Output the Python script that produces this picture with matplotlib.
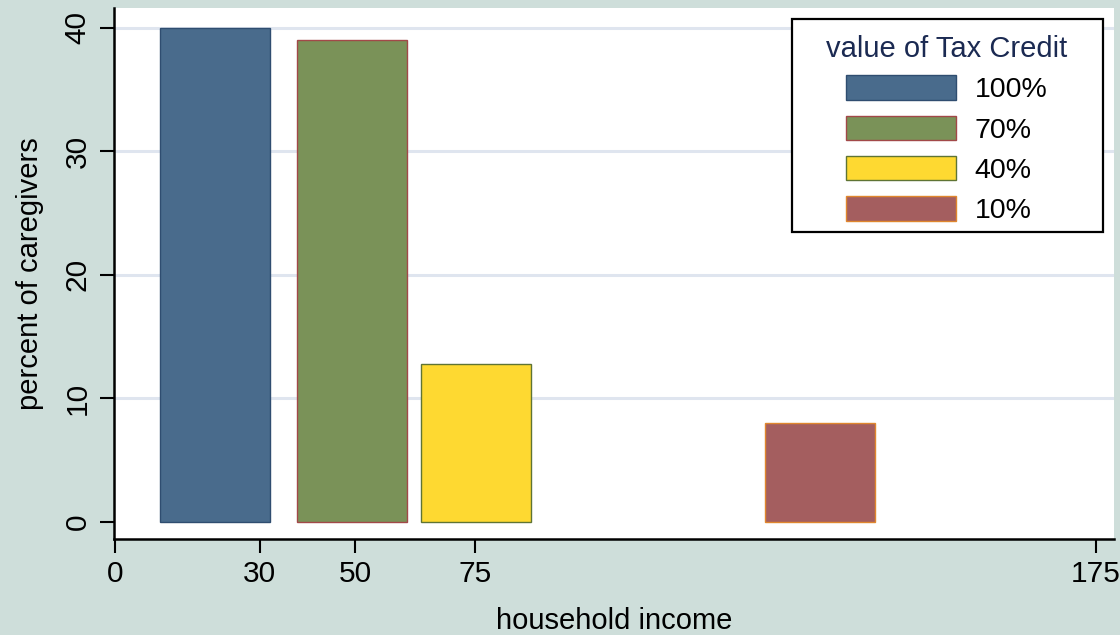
import matplotlib
matplotlib.use("Agg")
import matplotlib.pyplot as plt
from matplotlib.patches import Patch, Rectangle

# data
series = ["100%", "70%", "40%", "10%"]
percent = [40.0, 39.0, 12.8, 8.0]
bar_centers = [20.7, 49.2, 74.8, 146.1]
bar_width = 22.8
xtick_pos = [0, 30, 49.8, 74.6, 203.4]
xtick_labels = ["0", "30", "50", "75", "175"]
yticks = [0, 10, 20, 30, 40]

fills = ["#496b8c", "#7a9258", "#fed931", "#a45e5f"]
edges = ["#2f4d70", "#a24848", "#5f7434", "#e0872e"]
bg = "#cededa"

plt.rcParams["font.family"] = ["Liberation Sans", "DejaVu Sans"]

fig = plt.figure(figsize=(11.2, 6.35), dpi=100, facecolor=bg)
ax = fig.add_axes([114/1120, (635-539)/635, 1000/1120, 531/635])
ax.set_facecolor("white")

for y in yticks[1:]:
    ax.axhline(y, color="#dfe5ef", lw=2.2, zorder=0)

for c, h, f, e in zip(bar_centers, percent, fills, edges):
    ax.bar(c, h, width=bar_width, color=f, edgecolor=e, linewidth=1.0, zorder=2)

ax.set_xlim(-0.2, 207.1)
ax.set_ylim(-1.4, 41.6)
ax.set_xticks(xtick_pos)
ax.set_xticklabels(xtick_labels, fontsize=21.5)
ax.set_yticks(yticks)
ax.set_yticklabels([str(v) for v in yticks], fontsize=21.5, rotation=90, va="center")
ax.tick_params(axis="both", length=10, width=1.5, color="black")
ax.tick_params(axis="x", pad=5)
ax.tick_params(axis="y", pad=6)

for s in ["top", "right"]:
    ax.spines[s].set_visible(False)
for s in ["left", "bottom"]:
    ax.spines[s].set_linewidth(1.8)
    ax.spines[s].set_color("black")

ax.set_xlabel("household income", fontsize=21, labelpad=14)
ax.set_ylabel("percent of caregivers", fontsize=21, labelpad=14)

# legend frame
ax.add_patch(Rectangle((0.678, 0.578), 0.311, 0.401, transform=ax.transAxes,
                       facecolor="white", edgecolor="black", linewidth=1.6, zorder=4))

handles = [Patch(facecolor=f, edgecolor=e, linewidth=1.0) for f, e in zip(fills, edges)]
leg = ax.legend(handles, series, title="value of Tax Credit", loc="upper center",
                bbox_to_anchor=(0.833, 0.949), fontsize=20.5, title_fontsize=21,
                handlelength=3.86, handleheight=0.95, handletextpad=0.65,
                labelspacing=0.43, borderpad=0, frameon=False, borderaxespad=0)
leg.get_title().set_color("#1b2a52")
leg.set_zorder(5)

fig.savefig("out.png", dpi=100, facecolor=bg)
